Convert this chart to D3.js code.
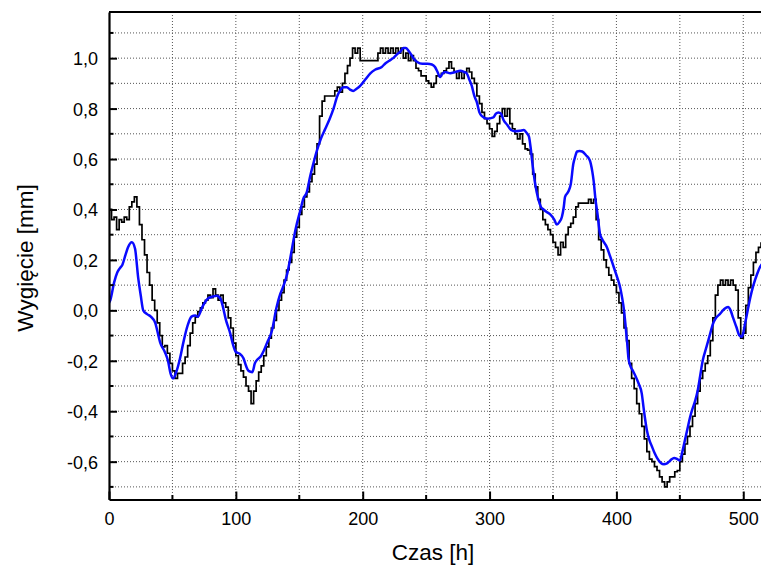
<!DOCTYPE html>
<html lang="pl">
<head>
<meta charset="UTF-8">
<title>Wygięcie w czasie</title>
<script src="https://d3js.org/d3.v7.min.js"></script>
<style>
  body { margin: 0; background: #fff; }
  svg { display: block; font-family: "Liberation Sans", Arial, sans-serif; }
  .grid line { stroke: #555; stroke-width: 1; stroke-dasharray: 1,2; }
  .tick-label { font-size: 18px; fill: #000; }
  .axis-title { font-size: 22.5px; fill: #000; }
</style>
</head>
<body>
<svg id="chart" width="761" height="565"></svg>
<script>
// measured deflection (black), sampled every 2 h starting at 0 h
const measuredStep = 2;
const measured = [
  0.40, 0.36, 0.37, 0.32, 0.36, 0.35, 0.37, 0.36, 0.41, 0.43,
  0.45, 0.41, 0.34, 0.28, 0.22, 0.15, 0.10, 0.04, 0.00, -0.05,
  -0.10, -0.145, -0.14, -0.17, -0.21, -0.24, -0.27, -0.25, -0.25, -0.21,
  -0.185, -0.14, -0.09, -0.05, -0.027, -0.005, 0.01, 0.03, 0.04, 0.06,
  0.05, 0.085, 0.06, 0.04, 0.06, 0.03, 0.013, -0.03, -0.07, -0.13,
  -0.18, -0.215, -0.24, -0.265, -0.30, -0.32, -0.37, -0.32, -0.28, -0.245,
  -0.22, -0.18, -0.145, -0.11, -0.07, -0.04, 0.00, 0.04, 0.07, 0.12,
  0.16, 0.19, 0.23, 0.29, 0.33, 0.38, 0.41, 0.45, 0.47, 0.51,
  0.54, 0.58, 0.66, 0.77, 0.83, 0.85, 0.85, 0.85, 0.85, 0.87,
  0.885, 0.865, 0.90, 0.94, 0.97, 1.00, 1.04, 1.02, 1.04, 0.99,
  0.99, 0.99, 0.99, 0.99, 0.99, 0.99, 1.02, 1.04, 1.02, 1.04,
  1.02, 1.04, 1.02, 1.04, 1.02, 1.04, 1.00, 1.02, 0.99, 1.01,
  0.99, 0.96, 0.95, 0.93, 0.93, 0.91, 0.90, 0.885, 0.90, 0.93,
  0.93, 0.94, 0.95, 0.96, 0.985, 0.96, 0.945, 0.92, 0.945, 0.92,
  0.945, 0.96, 0.945, 0.92, 0.90, 0.85, 0.82, 0.785, 0.76, 0.74,
  0.72, 0.69, 0.71, 0.74, 0.77, 0.80, 0.77, 0.80, 0.74, 0.72,
  0.70, 0.68, 0.70, 0.66, 0.64, 0.635, 0.62, 0.54, 0.49, 0.44,
  0.40, 0.36, 0.34, 0.32, 0.30, 0.27, 0.25, 0.22, 0.27, 0.25,
  0.30, 0.33, 0.345, 0.37, 0.41, 0.425, 0.425, 0.425, 0.425, 0.44,
  0.425, 0.44, 0.36, 0.28, 0.24, 0.20, 0.17, 0.14, 0.12, 0.10,
  0.07, 0.03, -0.01, -0.07, -0.12, -0.21, -0.27, -0.31, -0.37, -0.41,
  -0.46, -0.51, -0.56, -0.59, -0.60, -0.62, -0.635, -0.66, -0.68, -0.70,
  -0.68, -0.66, -0.66, -0.64, -0.635, -0.60, -0.57, -0.53, -0.50, -0.46,
  -0.42, -0.37, -0.32, -0.27, -0.24, -0.21, -0.18, -0.12, -0.03, 0.06,
  0.10, 0.12, 0.10, 0.12, 0.10, 0.12, 0.10, 0.08, -0.03, -0.11,
  -0.09, 0.02, 0.09, 0.14, 0.19, 0.23, 0.25, 0.27
];

// model curve (blue): [time h, deflection mm]
const model = [
  [0, 0.03], [1, 0.04], [4, 0.11], [6.5, 0.15], [9, 0.17], [10.5, 0.18], [13, 0.22],
  [15, 0.25], [18, 0.27], [20.5, 0.245], [23, 0.13], [25, 0.06], [27, 0.0], [30, -0.015],
  [33, -0.025], [36.5, -0.05], [38, -0.08], [40.5, -0.13], [44, -0.165], [46.5, -0.2],
  [48.5, -0.25], [50.5, -0.27], [53, -0.245], [56, -0.19], [58.5, -0.13], [62, -0.06],
  [65, -0.025], [68, -0.02], [70, -0.025], [73.5, 0.013], [78, 0.047], [82, 0.055],
  [85, 0.058], [88, 0.045], [90, 0.01], [92, -0.035], [95.5, -0.09], [98, -0.14],
  [100, -0.165], [103, -0.172], [106, -0.19], [108, -0.22], [110, -0.24], [113, -0.245],
  [115, -0.21], [117, -0.195], [120, -0.18], [122, -0.16], [124.5, -0.13], [128.5, -0.08],
  [132, 0.01], [135, 0.065], [137, 0.09], [140.5, 0.145], [143, 0.21], [147, 0.32],
  [151, 0.40], [153, 0.44], [156, 0.47], [158.5, 0.53], [161, 0.58], [164, 0.635],
  [167, 0.68], [170.5, 0.72], [174, 0.76], [177, 0.80], [180, 0.85], [182, 0.87],
  [185, 0.885], [187.5, 0.885], [190, 0.875], [192.5, 0.87], [195, 0.878], [198, 0.89],
  [202, 0.915], [206, 0.94], [210, 0.955], [215, 0.965], [218, 0.98], [221, 0.99],
  [224, 1.0], [227, 1.015], [229.5, 1.025], [232, 1.04], [234, 1.04], [236, 1.03],
  [237.5, 1.02], [240, 1.0], [243, 0.985], [247, 0.978], [251, 0.978], [254.5, 0.975],
  [257, 0.965], [259, 0.945], [261, 0.925], [263, 0.94], [265, 0.945], [269, 0.94],
  [273, 0.945], [277, 0.95], [280, 0.945], [282, 0.94], [284, 0.915], [286, 0.89],
  [288, 0.85], [290, 0.825], [292, 0.785], [294, 0.77], [298, 0.76], [303, 0.765],
  [305, 0.78], [307, 0.785], [309, 0.78], [311, 0.755], [314, 0.735], [317, 0.715],
  [320, 0.71], [324, 0.712], [327, 0.715], [329, 0.705], [331, 0.69], [332.5, 0.64],
  [333.5, 0.595], [336, 0.50], [338.5, 0.44], [340.5, 0.41], [342.5, 0.40], [345, 0.39],
  [348, 0.38], [351, 0.36], [353, 0.34], [355, 0.35], [357, 0.37], [358.5, 0.41],
  [359.5, 0.45], [362, 0.47], [364, 0.50], [366, 0.58], [367.5, 0.61], [369, 0.63],
  [371, 0.632], [373, 0.63], [376, 0.615], [379, 0.595], [381, 0.55], [382, 0.515],
  [383.5, 0.44], [385, 0.385], [387, 0.305], [389, 0.28], [392.5, 0.25], [395, 0.215],
  [397, 0.185], [399, 0.155], [401, 0.125], [403, 0.09], [404.5, 0.05], [406, 0.0],
  [407, -0.05], [408.5, -0.13], [409.5, -0.19], [411, -0.22], [413, -0.24], [415, -0.26],
  [417.5, -0.29], [420, -0.33], [421.5, -0.39], [424, -0.475], [426, -0.515], [428, -0.54],
  [430, -0.565], [432, -0.585], [435, -0.605], [437.5, -0.61], [439.5, -0.608], [441.5, -0.60],
  [443.5, -0.59], [445.5, -0.585], [448, -0.59], [450, -0.595], [452, -0.56], [454, -0.515],
  [456, -0.47], [458, -0.425], [460, -0.39], [462, -0.36], [464, -0.32], [466, -0.26],
  [468, -0.2], [471, -0.145], [473.5, -0.10], [476, -0.055], [478.5, -0.03], [481.5, -0.015],
  [485, 0.005], [488, 0.013], [490, 0.0], [492, -0.03], [494.5, -0.065], [497, -0.10],
  [498.5, -0.105], [500, -0.09], [501.5, -0.05], [503.5, 0.0], [505.5, 0.05], [508, 0.10],
  [511, 0.145], [513, 0.17], [515, 0.185]
];

const xTicks = [0, 100, 200, 300, 400, 500];
const xMinorTicks = [50, 150, 250, 350, 450];
const yTicks = [-0.6, -0.4, -0.2, 0.0, 0.2, 0.4, 0.6, 0.8, 1.0];
const yMinorTicks = [-0.7, -0.5, -0.3, -0.1, 0.1, 0.3, 0.5, 0.7, 0.9, 1.1];

const svg = d3.select("#chart");
const plotLeft = 109, plotTop = 12, plotBottom = 499.5;

const x = d3.scaleLinear().domain([0, 515]).range([plotLeft, 762.3]);
const y = d3.scaleLinear().domain([-0.75, 1.183]).range([plotBottom, plotTop]);

const fmt = v => d3.format(".1f")(v).replace(".", ",").replace("−", "-");

svg.append("clipPath").attr("id", "plot-clip")
  .append("rect").attr("x", plotLeft).attr("y", plotTop)
  .attr("width", 761 - plotLeft).attr("height", plotBottom - plotTop);

// dotted grid
const grid = svg.append("g").attr("class", "grid");
grid.selectAll(".gv").data(xMinorTicks.concat(xTicks.slice(1))).enter().append("line")
  .attr("x1", d => x(d)).attr("x2", d => x(d))
  .attr("y1", plotTop).attr("y2", plotBottom);
grid.selectAll(".gh").data(yMinorTicks.concat(yTicks)).enter().append("line")
  .attr("x1", plotLeft).attr("x2", 761)
  .attr("y1", d => y(d)).attr("y2", d => y(d));

// lines
const plot = svg.append("g").attr("clip-path", "url(#plot-clip)");

const measLine = d3.line()
  .x((d, i) => x(i * measuredStep))
  .y(d => y(d))
  .curve(d3.curveStepAfter);

plot.append("path")
  .datum(measured)
  .attr("d", measLine)
  .attr("fill", "none")
  .attr("stroke", "#000")
  .attr("stroke-width", 1.7);

const modelLine = d3.line()
  .x(d => x(d[0]))
  .y(d => y(d[1]))
  .curve(d3.curveMonotoneX);

plot.append("path")
  .datum(model)
  .attr("d", modelLine)
  .attr("fill", "none")
  .attr("stroke", "#0a0aff")
  .attr("stroke-width", 2.5)
  .attr("stroke-linejoin", "round");

// axes (ticks pointing inward)
const xAxis = svg.append("g").attr("transform", `translate(0,${plotBottom})`);
xAxis.call(d3.axisBottom(x).tickValues(xTicks).tickSizeInner(-8).tickSizeOuter(0).tickFormat(d => d));
xAxis.selectAll(".minor").data(xMinorTicks).enter().append("line")
  .attr("x1", d => x(d)).attr("x2", d => x(d))
  .attr("y1", 0).attr("y2", -4.5).attr("stroke", "#000").attr("stroke-width", 2);

const yAxis = svg.append("g").attr("transform", `translate(${plotLeft},0)`);
yAxis.call(d3.axisLeft(y).tickValues(yTicks).tickSizeInner(-8).tickSizeOuter(0).tickFormat(fmt));
yAxis.selectAll(".minor").data(yMinorTicks).enter().append("line")
  .attr("x1", 0).attr("x2", 4.5)
  .attr("y1", d => y(d)).attr("y2", d => y(d))
  .attr("stroke", "#000").attr("stroke-width", 2);

[xAxis, yAxis].forEach(g => {
  g.select(".domain").attr("stroke", "#000").attr("stroke-width", 2.2);
  g.selectAll(".tick line").attr("stroke", "#000").attr("stroke-width", 2);
  g.selectAll(".tick text").attr("class", "tick-label")
    .attr("font-family", null).attr("font-size", null);
});
xAxis.selectAll(".tick text").attr("y", 13).attr("dy", "0.71em");
yAxis.selectAll(".tick text").attr("x", -11).attr("dy", "0.36em");

// top frame line
svg.append("line")
  .attr("x1", plotLeft).attr("x2", 761)
  .attr("y1", plotTop).attr("y2", plotTop)
  .attr("stroke", "#000").attr("stroke-width", 2);

// titles
svg.append("text").attr("class", "axis-title")
  .attr("x", 433).attr("y", 560)
  .attr("text-anchor", "middle")
  .text("Czas [h]");

svg.append("text").attr("class", "axis-title")
  .attr("transform", "translate(33,258) rotate(-90)")
  .attr("text-anchor", "middle")
  .text("Wygięcie [mm]");
</script>
</body>
</html>
